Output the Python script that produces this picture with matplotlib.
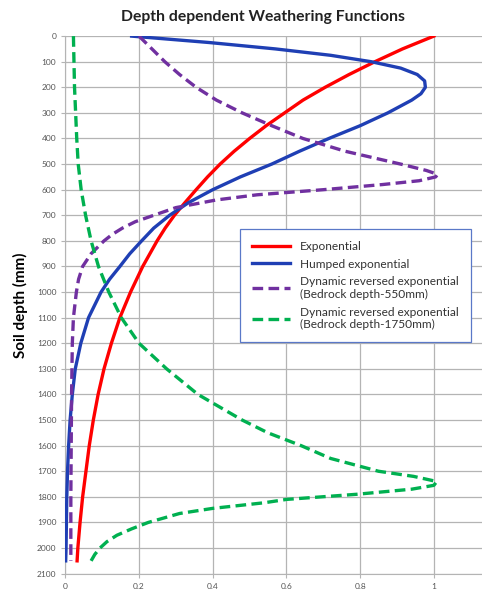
import matplotlib.pyplot as plt

plt.rcParams['font.family'] = ['Lato', 'DejaVu Sans']

# depth (mm) and value, per curve
exp_depth = [0, 50, 100, 150, 200, 250, 300, 350, 400, 450, 500, 550, 600, 650,
             700, 750, 800, 900, 1000, 1100, 1200, 1300, 1400, 1500, 1600, 1700,
             1800, 1900, 2000, 2050]
exp_val = [1.0, 0.915, 0.84, 0.77, 0.705, 0.645, 0.595, 0.545, 0.50, 0.458, 0.42,
           0.386, 0.355, 0.325, 0.296, 0.271, 0.249, 0.21, 0.177, 0.148, 0.125,
           0.105, 0.089, 0.076, 0.065, 0.056, 0.047, 0.04, 0.034, 0.032]

hump_depth = [0, 25, 50, 75, 100, 125, 150, 175, 200, 225, 250, 300, 350, 400,
              450, 500, 550, 600, 650, 700, 750, 800, 850, 900, 950, 1000, 1100,
              1200, 1300, 1400, 1500, 1600, 1700, 1800, 1900, 2000, 2050]
hump_val = [0.18, 0.39, 0.57, 0.72, 0.83, 0.91, 0.955, 0.975, 0.977, 0.965, 0.94,
            0.875, 0.80, 0.715, 0.635, 0.56, 0.475, 0.40, 0.335, 0.283, 0.24,
            0.207, 0.175, 0.148, 0.12, 0.097, 0.063, 0.042, 0.027, 0.019, 0.013,
            0.009, 0.006, 0.004, 0.003, 0.002, 0.001]

dre550_depth = [0, 50, 100, 150, 200, 250, 300, 350, 400, 450, 500, 525, 540,
                550, 565, 580, 600, 620, 640, 670, 700, 725, 750, 775, 800, 850,
                900, 950, 1000, 1100, 1200, 1400, 1600, 1800, 2050]
dre550_val = [0.20, 0.235, 0.27, 0.31, 0.355, 0.41, 0.48, 0.56, 0.645, 0.76, 0.91,
              0.98, 1.01, 1.005, 0.96, 0.86, 0.70, 0.52, 0.41, 0.30, 0.24, 0.19,
              0.155, 0.127, 0.105, 0.07, 0.047, 0.036, 0.03, 0.022, 0.019, 0.017,
              0.016, 0.015, 0.015]

dre1750_depth = [0, 200, 400, 500, 600, 700, 800, 900, 1000, 1100, 1200, 1300,
                 1400, 1500, 1550, 1600, 1650, 1700, 1720, 1740, 1755, 1770,
                 1790, 1810, 1823, 1845, 1865, 1900, 1925, 1950, 1975, 2000,
                 2025, 2050]
dre1750_val = [0.022, 0.025, 0.031, 0.035, 0.043, 0.055, 0.07, 0.09, 0.118, 0.152,
               0.20, 0.275, 0.36, 0.48, 0.55, 0.64, 0.72, 0.85, 0.945, 1.008, 1.0,
               0.94, 0.79, 0.60, 0.54, 0.40, 0.31, 0.225, 0.18, 0.14, 0.113,
               0.094, 0.08, 0.07]

labels = ['Exponential', 'Humped exponential',
          'Dynamic reversed exponential\n(Bedrock depth-550mm)',
          'Dynamic reversed exponential\n(Bedrock depth-1750mm)']
x_ticks = [0, 0.2, 0.4, 0.6, 0.8, 1]
x_ticklabels = ['0', '0.2', '0.4', '0.6', '0.8', '1']
y_ticks = list(range(0, 2101, 100))

fig = plt.figure(figsize=(4.82, 5.92), dpi=100)
ax = fig.add_axes([0.1355, 0.031, 0.864, 0.908])

dash = (0, (3.2, 1.6))
ax.plot(exp_val, exp_depth, color='#ff0000', lw=2.4, label=labels[0], zorder=3)
ax.plot(hump_val, hump_depth, color='#1f3fb4', lw=2.4, label=labels[1], zorder=3)
ax.plot(dre550_val, dre550_depth, color='#7030a0', lw=2.4, ls=dash, label=labels[2], zorder=3)
ax.plot(dre1750_val, dre1750_depth, color='#00b050', lw=2.4, ls=dash, label=labels[3], zorder=3)

ax.set_xlim(0, 1.13)
ax.set_ylim(2100, 0)
ax.set_xticks(x_ticks)
ax.set_xticklabels(x_ticklabels)
ax.set_yticks(y_ticks)
ax.grid(True, color='#b4b4b4', lw=0.9)
ax.set_axisbelow(True)
ax.tick_params(labelsize=6, colors='#555555', length=3, color='#b4b4b4')
for s in ['top', 'right']:
    ax.spines[s].set_visible(False)
for s in ['left', 'bottom']:
    ax.spines[s].set_color('#b4b4b4')

ax.set_ylabel('Soil depth (mm)', fontsize=11, fontweight='bold', labelpad=6)
fig.text(0.545, 0.972, 'Depth dependent Weathering Functions', ha='center', va='center',
         fontsize=11.3, fontweight='bold', color='#222222')

leg = ax.legend(loc='upper left', bbox_to_anchor=(0.42, 0.641), fontsize=8.6,
                fancybox=False, framealpha=1, edgecolor='#5a78c8', handlelength=3.2,
                borderpad=1.0, labelspacing=0.55, borderaxespad=0)
leg.get_frame().set_linewidth(0.9)
for t in leg.get_texts():
    t.set_color('#333333')

fig.savefig('out.png', dpi=100)
